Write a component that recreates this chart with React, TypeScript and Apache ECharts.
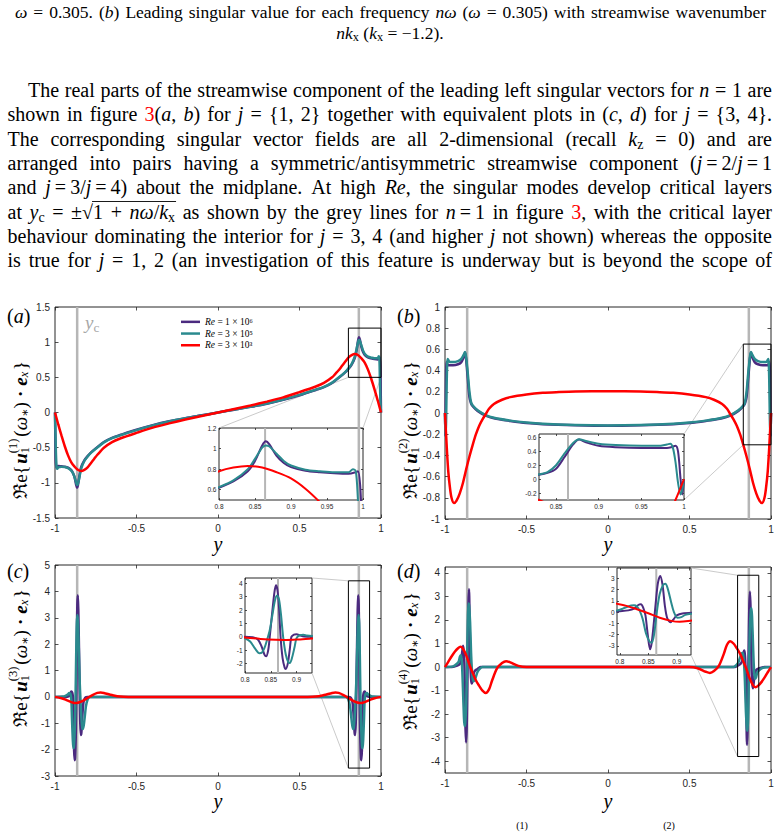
import React, { useEffect, useRef } from 'react';
import * as echarts from 'echarts';

const SERIF = '"Liberation Serif", "Times New Roman", "DejaVu Serif", serif';
const SANS = '"Liberation Sans", Arial, Helvetica, sans-serif';
const PURPLE = '#4b2a7f';
const TEAL = '#2a8a8e';
const RED = '#ff0000';
const GREY = '#b6b6b6';
const AX = '#262626';
const COLORS = [PURPLE, TEAL, RED];

const SERIES_NAMES = ['Re = 1 × 10⁶', 'Re = 3 × 10⁵', 'Re = 3 × 10³'];
const Y_CRIT = 0.864;

// ---------- tick labels ----------
const MAIN_X_TICKS = [-1, -0.5, 0, 0.5, 1];
const A_Y_TICKS = [-1.5, -1, -0.5, 0, 0.5, 1, 1.5];
const B_Y_TICKS = [-1, -0.8, -0.6, -0.4, -0.2, 0, 0.2, 0.4, 0.6, 0.8, 1];
const C_Y_TICKS = [-3, -2, -1, 0, 1, 2, 3, 4, 5];
const D_Y_TICKS = [-4, -3, -2, -1, 0, 1, 2, 3, 4];
const A_INSET_X_TICKS = [0.8, 0.85, 0.9, 0.95, 1];
const A_INSET_Y_TICKS = [0.6, 0.8, 1, 1.2];
const B_INSET_X_TICKS = [0.85, 0.9, 0.95, 1];
const B_INSET_Y_TICKS = [-0.2, 0, 0.2, 0.4, 0.6];
const C_INSET_X_TICKS = [0.8, 0.85, 0.9];
const C_INSET_Y_TICKS = [-2, -1, 0, 1, 2, 3, 4];
const D_INSET_X_TICKS = [0.8, 0.85, 0.9];
const D_INSET_Y_TICKS = [-3, -2, -1, 0, 1, 2, 3];

// ---------- panel (a): j = 1 ----------
const A_PURPLE = [
  [-1, 0], [-0.998, -0.35], [-0.996, -0.65], [-0.993, -0.78], [-0.99, -0.77], [-0.98, -0.76], [-0.96, -0.765],
  [-0.94, -0.77], [-0.92, -0.785], [-0.9, -0.82], [-0.89, -0.86], [-0.88, -0.92], [-0.87, -1.03], [-0.865, -1.07],
  [-0.86, -1.04], [-0.85, -0.9], [-0.84, -0.78], [-0.82, -0.68], [-0.8, -0.62], [-0.78, -0.57], [-0.75, -0.51],
  [-0.7, -0.42], [-0.65, -0.36], [-0.6, -0.32], [-0.5, -0.245], [-0.4, -0.18], [-0.3, -0.125], [-0.2, -0.08],
  [-0.1, -0.04], [0, 0], [0.1, 0.04], [0.2, 0.08], [0.3, 0.125], [0.4, 0.18], [0.5, 0.245], [0.6, 0.32],
  [0.65, 0.36], [0.7, 0.42], [0.75, 0.51], [0.78, 0.57], [0.8, 0.62], [0.82, 0.68], [0.84, 0.78], [0.85, 0.88],
  [0.86, 1.03], [0.865, 1.07], [0.87, 1.04], [0.88, 0.93], [0.89, 0.86], [0.9, 0.82], [0.92, 0.785], [0.94, 0.77],
  [0.96, 0.76], [0.98, 0.755], [0.99, 0.77], [0.993, 0.78], [0.996, 0.65], [0.998, 0.35], [1, 0],
];
const A_TEAL = [
  [-1, 0], [-0.997, -0.3], [-0.994, -0.6], [-0.99, -0.78], [-0.986, -0.8], [-0.98, -0.78], [-0.96, -0.77],
  [-0.94, -0.775], [-0.92, -0.79], [-0.9, -0.825], [-0.89, -0.86], [-0.88, -0.92], [-0.87, -1.0], [-0.865, -1.03],
  [-0.86, -1.02], [-0.85, -0.92], [-0.84, -0.8], [-0.82, -0.69], [-0.8, -0.625], [-0.78, -0.575], [-0.75, -0.515],
  [-0.7, -0.425], [-0.65, -0.365], [-0.6, -0.325], [-0.5, -0.25], [-0.4, -0.185], [-0.3, -0.128], [-0.2, -0.082],
  [-0.1, -0.041], [0, 0], [0.1, 0.041], [0.2, 0.082], [0.3, 0.128], [0.4, 0.185], [0.5, 0.25], [0.6, 0.325],
  [0.65, 0.365], [0.7, 0.425], [0.75, 0.515], [0.78, 0.575], [0.8, 0.625], [0.82, 0.69], [0.84, 0.8], [0.85, 0.9],
  [0.86, 1.01], [0.865, 1.03], [0.87, 1.02], [0.88, 0.95], [0.89, 0.88], [0.9, 0.835], [0.92, 0.795], [0.94, 0.78],
  [0.96, 0.77], [0.98, 0.77], [0.986, 0.8], [0.99, 0.78], [0.993, 0.5], [0.996, 0.2], [1, 0],
];
const A_RED = [
  [-1, 0], [-0.98, -0.17], [-0.96, -0.33], [-0.94, -0.48], [-0.92, -0.61], [-0.9, -0.71], [-0.88, -0.77],
  [-0.86, -0.815], [-0.84, -0.83], [-0.82, -0.815], [-0.8, -0.78], [-0.78, -0.72], [-0.76, -0.66], [-0.74, -0.6],
  [-0.72, -0.55], [-0.7, -0.5], [-0.65, -0.42], [-0.6, -0.37], [-0.5, -0.29], [-0.4, -0.215], [-0.3, -0.155],
  [-0.2, -0.1], [-0.1, -0.05], [0, 0], [0.1, 0.05], [0.2, 0.1], [0.3, 0.155], [0.4, 0.215], [0.5, 0.29],
  [0.6, 0.37], [0.65, 0.42], [0.7, 0.5], [0.72, 0.55], [0.74, 0.6], [0.76, 0.66], [0.78, 0.72], [0.8, 0.78],
  [0.82, 0.815], [0.84, 0.83], [0.86, 0.815], [0.88, 0.77], [0.9, 0.71], [0.92, 0.61], [0.94, 0.48], [0.96, 0.33],
  [0.98, 0.17], [1, 0],
];

// ---------- panel (b): j = 2 ----------
const B_PURPLE = [
  [-1, 0], [-0.998, -0.22], [-0.996, 0], [-0.993, 0.4], [-0.99, 0.48], [-0.985, 0.46], [-0.98, 0.45], [-0.95, 0.45],
  [-0.92, 0.46], [-0.9, 0.48], [-0.885, 0.53], [-0.877, 0.57], [-0.87, 0.5], [-0.86, 0.32], [-0.85, 0.15],
  [-0.84, 0.09], [-0.83, 0.065], [-0.8, 0.02], [-0.75, -0.025], [-0.7, -0.05], [-0.6, -0.075], [-0.5, -0.095],
  [-0.4, -0.105], [-0.2, -0.115], [0, -0.12], [0.2, -0.115], [0.4, -0.105], [0.5, -0.095], [0.6, -0.075],
  [0.7, -0.05], [0.75, -0.025], [0.8, 0.02], [0.83, 0.065], [0.84, 0.09], [0.85, 0.15], [0.86, 0.32], [0.87, 0.5],
  [0.877, 0.57], [0.885, 0.53], [0.9, 0.48], [0.92, 0.46], [0.95, 0.45], [0.98, 0.45], [0.985, 0.46], [0.99, 0.48],
  [0.993, 0.4], [0.996, 0], [0.998, -0.22], [1, 0],
];
const B_TEAL = [
  [-1, 0], [-0.998, -0.15], [-0.996, -0.22], [-0.993, -0.05], [-0.99, 0.25], [-0.987, 0.45], [-0.984, 0.51],
  [-0.98, 0.5], [-0.97, 0.48], [-0.95, 0.48], [-0.92, 0.49], [-0.9, 0.51], [-0.885, 0.55], [-0.877, 0.575],
  [-0.87, 0.52], [-0.86, 0.37], [-0.85, 0.2], [-0.84, 0.1], [-0.83, 0.07], [-0.8, 0.025], [-0.75, -0.02],
  [-0.7, -0.045], [-0.6, -0.072], [-0.5, -0.09], [-0.4, -0.102], [-0.2, -0.113], [0, -0.117], [0.2, -0.113],
  [0.4, -0.102], [0.5, -0.09], [0.6, -0.072], [0.7, -0.045], [0.75, -0.02], [0.8, 0.025], [0.83, 0.07], [0.84, 0.1],
  [0.85, 0.2], [0.86, 0.37], [0.87, 0.52], [0.877, 0.575], [0.885, 0.55], [0.9, 0.51], [0.92, 0.49], [0.95, 0.48],
  [0.97, 0.48], [0.98, 0.5], [0.984, 0.51], [0.987, 0.45], [0.99, 0.25], [0.993, -0.05], [0.996, -0.22],
  [0.998, -0.15], [1, 0],
];
const B_RED = [
  [-1, 0], [-0.99, -0.3], [-0.98, -0.55], [-0.97, -0.7], [-0.96, -0.8], [-0.945, -0.85], [-0.93, -0.83],
  [-0.91, -0.76], [-0.89, -0.66], [-0.87, -0.53], [-0.85, -0.41], [-0.83, -0.3], [-0.81, -0.2], [-0.79, -0.12],
  [-0.77, -0.06], [-0.75, -0.01], [-0.73, 0.04], [-0.7, 0.085], [-0.65, 0.125], [-0.6, 0.15], [-0.5, 0.175],
  [-0.4, 0.19], [-0.3, 0.197], [-0.2, 0.202], [0, 0.205], [0.2, 0.202], [0.3, 0.197], [0.4, 0.19], [0.5, 0.175],
  [0.6, 0.15], [0.65, 0.125], [0.7, 0.085], [0.73, 0.04], [0.75, -0.01], [0.77, -0.06], [0.79, -0.12], [0.81, -0.2],
  [0.83, -0.3], [0.85, -0.41], [0.87, -0.53], [0.89, -0.66], [0.91, -0.76], [0.93, -0.83], [0.945, -0.85],
  [0.96, -0.8], [0.97, -0.7], [0.98, -0.55], [0.99, -0.3], [1, 0],
];

// ---------- panel (c): j = 3 ----------
const C_PURPLE = [
  [-1, 0], [-0.93, 0], [-0.915, 0.02], [-0.907, 0.1], [-0.9, 0.2], [-0.895, 0.17], [-0.89, 0], [-0.887, -0.9],
  [-0.883, -2.0], [-0.879, -2.4], [-0.877, -2.3], [-0.873, -1.6], [-0.869, 0], [-0.866, 2.2], [-0.863, 3.5],
  [-0.86, 3.85], [-0.857, 3.3], [-0.853, 1.9], [-0.848, 0], [-0.845, -1.0], [-0.841, -1.45], [-0.838, -1.35],
  [-0.832, -0.7], [-0.825, -0.2], [-0.815, -0.03], [-0.8, 0], [0, 0], [0.8, 0], [0.815, -0.03], [0.825, -0.2],
  [0.832, -0.7], [0.838, -1.35], [0.841, -1.45], [0.845, -1.0], [0.848, 0], [0.853, 1.9], [0.857, 3.3],
  [0.86, 3.85], [0.863, 3.5], [0.866, 2.2], [0.869, 0], [0.873, -1.6], [0.877, -2.3], [0.879, -2.4],
  [0.883, -2.0], [0.887, -0.9], [0.89, 0], [0.895, 0.17], [0.9, 0.2], [0.907, 0.1], [0.915, 0.02], [0.93, 0],
  [1, 0],
];
const C_TEAL = [
  [-1, 0], [-0.95, 0.01], [-0.93, 0.06], [-0.92, 0.1], [-0.913, 0.15], [-0.906, 0.12], [-0.9, -0.1],
  [-0.896, -0.8], [-0.891, -1.6], [-0.887, -1.95], [-0.884, -1.9], [-0.879, -1.3], [-0.874, 0], [-0.87, 1.6],
  [-0.866, 2.8], [-0.862, 3.1], [-0.858, 2.7], [-0.853, 1.6], [-0.848, 0.5], [-0.843, -0.2], [-0.838, -0.8],
  [-0.832, -1.2], [-0.828, -1.22], [-0.82, -0.9], [-0.81, -0.35], [-0.8, -0.1], [-0.79, -0.02], [-0.78, 0], [0, 0],
  [0.78, 0], [0.79, -0.02], [0.8, -0.1], [0.81, -0.35], [0.82, -0.9], [0.828, -1.22], [0.832, -1.2],
  [0.838, -0.8], [0.843, -0.2], [0.848, 0.5], [0.853, 1.6], [0.858, 2.7], [0.862, 3.1], [0.866, 2.8], [0.87, 1.6],
  [0.874, 0], [0.879, -1.3], [0.884, -1.9], [0.887, -1.95], [0.891, -1.6], [0.896, -0.8], [0.9, -0.1],
  [0.906, 0.12], [0.913, 0.15], [0.92, 0.1], [0.93, 0.06], [0.95, 0.01], [1, 0],
];
const C_RED = [
  [-1, 0], [-0.96, -0.05], [-0.93, -0.12], [-0.9, -0.2], [-0.88, -0.23], [-0.86, -0.22], [-0.83, -0.15],
  [-0.8, -0.04], [-0.77, 0.07], [-0.74, 0.15], [-0.72, 0.17], [-0.7, 0.15], [-0.65, 0.07], [-0.6, 0.01],
  [-0.55, 0], [0, 0], [0.55, 0], [0.6, 0.01], [0.65, 0.07], [0.7, 0.15], [0.72, 0.17], [0.74, 0.15], [0.77, 0.07],
  [0.8, -0.04], [0.83, -0.15], [0.86, -0.22], [0.88, -0.23], [0.9, -0.2], [0.93, -0.12], [0.96, -0.05], [1, 0],
];

// ---------- panel (d): j = 4 ----------
const D_PURPLE = [
  [-1, 0], [-0.96, 0], [-0.93, 0.05], [-0.91, 0.12], [-0.9, 0.3], [-0.895, 0.6], [-0.889, 0.9], [-0.883, 0.5],
  [-0.879, -0.6], [-0.875, -2.4], [-0.871, -3.2], [-0.867, -2.6], [-0.863, -0.8], [-0.86, 0.8], [-0.856, 2.7],
  [-0.853, 3.3], [-0.849, 2.0], [-0.845, 0.3], [-0.841, -0.4], [-0.837, -0.7], [-0.833, -0.65], [-0.825, -0.3],
  [-0.815, -0.15], [-0.8, -0.08], [-0.78, 0], [0, 0], [0.78, 0], [0.8, 0.08], [0.815, 0.15], [0.825, 0.3],
  [0.833, 0.65], [0.837, 0.7], [0.841, 0.4], [0.845, -0.3], [0.849, -2.0], [0.853, -3.3], [0.856, -2.7],
  [0.86, -0.8], [0.863, 0.8], [0.867, 2.6], [0.871, 3.2], [0.875, 2.4], [0.879, 0.6], [0.883, -0.5],
  [0.889, -0.9], [0.895, -0.6], [0.9, -0.3], [0.91, -0.12], [0.93, -0.05], [0.96, 0], [1, 0],
];
const D_TEAL = [
  [-1, 0], [-0.95, 0.03], [-0.925, 0.15], [-0.915, 0.25], [-0.908, 0.45], [-0.901, 0.5], [-0.895, 0],
  [-0.89, -0.9], [-0.884, -2.1], [-0.88, -2.5], [-0.876, -2.4], [-0.87, -1.6], [-0.865, 0], [-0.86, 2.0],
  [-0.856, 2.7], [-0.852, 2.6], [-0.846, 1.9], [-0.84, 0.6], [-0.835, -0.1], [-0.83, -0.5], [-0.825, -0.6],
  [-0.82, -0.58], [-0.81, -0.4], [-0.8, -0.2], [-0.79, -0.1], [-0.77, 0], [0, 0], [0.77, 0], [0.79, 0.1],
  [0.8, 0.2], [0.81, 0.4], [0.82, 0.58], [0.825, 0.6], [0.83, 0.5], [0.835, 0.1], [0.84, -0.6], [0.846, -1.9],
  [0.852, -2.6], [0.856, -2.7], [0.86, -2.0], [0.865, 0], [0.87, 1.6], [0.876, 2.4], [0.88, 2.5], [0.884, 2.1],
  [0.89, 0.9], [0.895, 0], [0.901, -0.5], [0.908, -0.45], [0.915, -0.25], [0.925, -0.15], [0.95, -0.03], [1, 0],
];
const D_RED = [
  [-1, 0], [-0.98, 0.22], [-0.96, 0.45], [-0.94, 0.65], [-0.92, 0.8], [-0.905, 0.86], [-0.89, 0.78],
  [-0.87, 0.5], [-0.85, 0.1], [-0.83, -0.25], [-0.81, -0.57], [-0.79, -0.8], [-0.77, -1.0], [-0.75, -1.1],
  [-0.73, -0.95], [-0.71, -0.55], [-0.68, -0.05], [-0.65, 0.17], [-0.625, 0.25], [-0.6, 0.2], [-0.55, 0.05],
  [-0.5, 0], [0, 0], [0.5, 0], [0.55, -0.05], [0.6, -0.2], [0.625, -0.25], [0.65, -0.17], [0.68, 0.05],
  [0.71, 0.55], [0.73, 0.95], [0.75, 1.1], [0.77, 1.0], [0.79, 0.8], [0.81, 0.57], [0.83, 0.25], [0.85, -0.1],
  [0.87, -0.5], [0.89, -0.78], [0.905, -0.86], [0.92, -0.8], [0.94, -0.65], [0.96, -0.45], [0.98, -0.22], [1, 0],
];

// ---------- text ----------
const CAPTION_LINES = [
  '*ω* = 0.305. (*b*) Leading singular value for each frequency *nω* (*ω* = 0.305) with streamwise wavenumber',
  '*nk*~x~ (*k*~x~ = −1.2).',
];
const PARAGRAPH_LINES = [
  'The real parts of the streamwise component of the leading left singular vectors for *n* = 1 are',
  'shown in figure #3#(*a*, *b*) for *j* = {1, 2} together with equivalent plots in (*c*, *d*) for *j* = {3, 4}.',
  'The corresponding singular vector fields are all 2-dimensional (recall *k*~z~ = 0) and are',
  'arranged into pairs having a symmetric/antisymmetric streamwise component (*j*\u2009=\u20092/*j*\u2009=\u20091',
  'and *j*\u2009=\u20093/*j*\u2009=\u20094) about the midplane. At high *Re*, the singular modes develop critical layers',
  'at *y*~c~ = ±√[1 + *nω*/*k*~x~] as shown by the grey lines for *n*\u2009=\u20091 in figure #3#, with the critical layer',
  'behaviour dominating the interior for *j* = 3, 4 (and higher *j* not shown) whereas the opposite',
  'is true for *j* = 1, 2 (an investigation of this feature is underway but is beyond the scope of',
];
const PANEL_LETTERS = ['a', 'b', 'c', 'd'];
const FOOT_SUPERSCRIPTS = ['(1)', '(2)'];

// ---------- layout ----------
const PANELS = [
  {
    main: { left: 55, top: 307, width: 326, height: 211, x: [-1, 1], y: [-1.5, 1.5] },
    inset: { left: 219, top: 428, width: 144, height: 72, x: [0.8, 1], y: [0.5, 1.2] },
    xt: MAIN_X_TICKS, yt: A_Y_TICKS, ixt: A_INSET_X_TICKS, iyt: A_INSET_Y_TICKS,
    data: [A_PURPLE, A_TEAL, A_RED], below: true,
    letter: [7, 316], ylab: [20, 430], xtitle: [218, 544],
  },
  {
    main: { left: 445, top: 307, width: 326, height: 212, x: [-1, 1], y: [-1, 1] },
    inset: { left: 539, top: 434, width: 145, height: 66, x: [0.83, 1], y: [-0.3, 0.65] },
    xt: MAIN_X_TICKS, yt: B_Y_TICKS, ixt: B_INSET_X_TICKS, iyt: B_INSET_Y_TICKS,
    data: [B_PURPLE, B_TEAL, B_RED], below: false,
    letter: [397, 316], ylab: [410, 430], xtitle: [608, 544],
  },
  {
    main: { left: 55, top: 565, width: 326, height: 211, x: [-1, 1], y: [-3, 5] },
    inset: { left: 245, top: 578, width: 67, height: 95, x: [0.8, 0.93], y: [-2.7, 4.4] },
    xt: MAIN_X_TICKS, yt: C_Y_TICKS, ixt: C_INSET_X_TICKS, iyt: C_INSET_Y_TICKS,
    data: [C_PURPLE, C_TEAL, C_RED], below: false,
    letter: [7, 571], ylab: [20, 658], xtitle: [218, 801],
  },
  {
    main: { left: 445, top: 567, width: 326, height: 206, x: [-1, 1], y: [-4.5, 4.25] },
    inset: { left: 617, top: 568, width: 74, height: 87, x: [0.795, 0.925], y: [-3.8, 3.9] },
    xt: MAIN_X_TICKS, yt: D_Y_TICKS, ixt: D_INSET_X_TICKS, iyt: D_INSET_Y_TICKS,
    data: [D_PURPLE, D_TEAL, D_RED], below: false,
    letter: [397, 571], ylab: [410, 661], xtitle: [608, 801],
  },
];

// ---------- text helpers ----------
const mctx = document.createElement('canvas').getContext('2d') as CanvasRenderingContext2D;
function fstr(size: number, it?: boolean, bold?: boolean) {
  return `${it ? 'italic ' : ''}${bold ? 'bold ' : ''}${size}px ${SERIF}`;
}
function tw(t: string, font: string) {
  mctx.font = font;
  return mctx.measureText(t).width;
}
type Seg = { t: string; it: boolean; sub: boolean; red: boolean; ov: boolean };
function parseLine(s: string): Seg[][] {
  const words: Seg[][] = [];
  let cur: Seg[] = [];
  let st = { it: false, sub: false, red: false, ov: false };
  let buf = '';
  const flush = () => {
    if (buf) { cur.push({ t: buf, ...st }); buf = ''; }
  };
  for (const ch of s) {
    if (ch === '*') { flush(); st = { ...st, it: !st.it }; }
    else if (ch === '~') { flush(); st = { ...st, sub: !st.sub }; }
    else if (ch === '#') { flush(); st = { ...st, red: !st.red }; }
    else if (ch === '[') { flush(); st = { ...st, ov: true }; }
    else if (ch === ']') { flush(); st = { ...st, ov: false }; }
    else if (ch === ' ') { flush(); if (cur.length) words.push(cur); cur = []; }
    else buf += ch;
  }
  flush();
  if (cur.length) words.push(cur);
  return words;
}
const segSize = (sg: Seg, size: number) => (sg.sub ? size * 0.7 : size);
const segFont = (sg: Seg, size: number) => fstr(segSize(sg, size), sg.it, false);
function naturalWidth(s: string, size: number) {
  const words = parseLine(s);
  return { n: words.length, w: words.reduce((a, w) => a + w.reduce((b, sg) => b + tw(sg.t, segFont(sg, size)), 0), 0) };
}
function layoutLine(s: string, o: any) {
  const words = parseLine(s);
  const sx = o.sx ?? 1;
  const widths = words.map((w) => w.reduce((a, sg) => a + tw(sg.t, segFont(sg, o.size)), 0) * sx);
  const total = widths.reduce((a, b) => a + b, 0);
  const space = tw(' ', fstr(o.size)) * sx;
  let gap = space;
  let x = o.x0;
  if (o.mode === 'justify' && words.length > 1) gap = (o.x1 - o.x0 - total) / (words.length - 1);
  else if (o.mode === 'center') x = o.x0 - (total + space * (words.length - 1)) / 2;
  const els: any[] = [];
  let ovMin = Infinity;
  let ovMax = -Infinity;
  words.forEach((w) => {
    w.forEach((sg) => {
      const font = segFont(sg, o.size);
      const wd = tw(sg.t, font) * sx;
      els.push({
        type: 'text', x, y: o.y + (sg.sub ? o.size * 0.28 : 0), scaleX: sx, silent: true, z: 10,
        style: { text: sg.t, font, fill: sg.red ? RED : (o.color || '#000'), align: 'left', verticalAlign: 'middle', textAlign: 'left', textVerticalAlign: 'middle' },
      });
      if (sg.ov) { ovMin = Math.min(ovMin, x); ovMax = Math.max(ovMax, x + wd); }
      x += wd;
    });
    x += gap;
  });
  if (ovMin < ovMax) {
    const yy = o.y - o.size * 0.5;
    els.push({ type: 'line', silent: true, z: 10, shape: { x1: ovMin - 1, y1: yy, x2: ovMax + 1, y2: yy }, style: { stroke: o.color || '#000', lineWidth: 0.9 } });
  }
  return els;
}
function yLabelGroup(j: number, cx: number, cy: number) {
  const S = 19;
  const s = 12.5;
  const items: any[] = [
    { t: 'ℜe{', size: S, post: 1.5 },
    { t: 'u', size: S, it: true, bold: true },
    { t: '1', size: s, dy: 4.5, adv: false },
    { t: `(${j})`, size: s, dy: -7 },
    { t: '(', size: S, pre: 2 },
    { t: 'ω', size: S, it: true },
    { t: '∗', size: s, dy: 4.5 },
    { t: ')', size: S },
    { t: '·', size: S, bold: true, pre: 5, post: 5 },
    { t: 'e', size: S, it: true, bold: true },
    { t: 'x', size: s, it: true, dy: 4 },
    { t: '}', size: S, pre: 1.5 },
  ];
  let W = 0;
  items.forEach((it) => {
    it.font = fstr(it.size, it.it, it.bold);
    it.w = tw(it.t, it.font);
    W += (it.pre || 0) + (it.adv === false ? 0 : it.w) + (it.post || 0);
  });
  let x = -W / 2;
  const children = items.map((it) => {
    x += it.pre || 0;
    const el = { type: 'text', x, y: it.dy || 0, silent: true, style: { text: it.t, font: it.font, fill: '#000', align: 'left', verticalAlign: 'middle', textAlign: 'left', textVerticalAlign: 'middle' } };
    if (it.adv !== false) x += it.w;
    x += it.post || 0;
    return el;
  });
  return { type: 'group', x: cx, y: cy, rotation: Math.PI / 2, silent: true, z: 10, children };
}

// ---------- option ----------
function buildOption() {
  const grids: any[] = [];
  const xAxes: any[] = [];
  const yAxes: any[] = [];
  const series: any[] = [];
  const addGrid = (r: any, xt: number[], yt: number[], fs: number, tl: number, lm: number) => {
    const g = grids.length;
    grids.push({ left: r.left, top: r.top, width: r.width, height: r.height, show: true, borderColor: AX, borderWidth: 1, backgroundColor: 'transparent', containLabel: false, outerBoundsMode: 'none' });
    ['bottom', 'top'].forEach((pos, k) => xAxes.push({
      type: 'value', gridIndex: g, position: pos, min: r.x[0], max: r.x[1],
      axisLine: { show: false, onZero: false }, splitLine: { show: false },
      axisTick: { show: true, inside: true, length: tl, customValues: xt, lineStyle: { color: AX, width: 0.8 } },
      axisLabel: { show: k === 0, customValues: xt, fontSize: fs, color: AX, fontFamily: SANS, margin: lm },
    }));
    ['left', 'right'].forEach((pos, k) => yAxes.push({
      type: 'value', gridIndex: g, position: pos, min: r.y[0], max: r.y[1],
      axisLine: { show: false, onZero: false }, splitLine: { show: false },
      axisTick: { show: true, inside: true, length: tl, customValues: yt, lineStyle: { color: AX, width: 0.8 } },
      axisLabel: { show: k === 0, customValues: yt, fontSize: fs, color: AX, fontFamily: SANS, margin: lm },
    }));
    return g;
  };
  const addCurves = (g: number, r: any, data: any[], inset: boolean) => {
    const ai = 2 * g;
    [-Y_CRIT, Y_CRIT].forEach((v) => series.push({
      type: 'line', xAxisIndex: ai, yAxisIndex: ai, data: [[v, r.y[0]], [v, r.y[1]]], symbol: 'none',
      lineStyle: { color: GREY, width: inset ? 2 : 2.5 }, z: 1, silent: true, clip: true,
    }));
    data.forEach((d, k) => series.push({
      name: SERIES_NAMES[k], type: 'line', xAxisIndex: ai, yAxisIndex: ai, data: d, symbol: 'none', showSymbol: false,
      smooth: 0.3, lineStyle: { color: COLORS[k], width: inset ? 2 : 2.5 }, itemStyle: { color: COLORS[k] },
      z: 2 + k, clip: true, silent: true,
    }));
  };
  PANELS.forEach((p) => {
    const g = addGrid(p.main, p.xt, p.yt, 10, 3.5, 5);
    addCurves(g, p.main, p.data, false);
  });
  PANELS.forEach((p, i) => {
    const g = addGrid(p.inset, p.ixt, p.iyt, 6.5, 2, 2.5);
    addCurves(g, p.inset, p.data, true);
    const [x0, x1] = p.inset.x;
    const [y0, y1] = p.inset.y;
    series.push({
      type: 'line', xAxisIndex: 2 * i, yAxisIndex: 2 * i, data: [[x0, y0], [x1, y0], [x1, y1], [x0, y1], [x0, y0]],
      symbol: 'none', lineStyle: { color: '#000', width: 1 }, z: 6, clip: false, silent: true,
    });
  });
  return { grids, xAxes, yAxes, series };
}

function buildTexts() {
  const els: any[] = [];
  const specs: any[] = [
    { line: CAPTION_LINES[0], x0: 15, x1: 766, y: 12, size: 17.5, mode: 'justify' },
    { line: CAPTION_LINES[1], x0: 390, y: 32.5, size: 17.5, mode: 'center' },
    ...PARAGRAPH_LINES.map((l, k) => ({ line: l, x0: k === 0 ? 28 : 7.5, x1: 772, y: 90 + 24.3 * k, size: 20, mode: 'justify' })),
  ];
  let sx = 1;
  specs.filter((s) => s.mode === 'justify').forEach((s) => {
    const { n, w } = naturalWidth(s.line, s.size);
    sx = Math.min(sx, (s.x1 - s.x0 - (n - 1) * 0.2 * s.size) / w);
  });
  specs.forEach((s) => els.push(...layoutLine(s.line, { ...s, sx })));
  PANELS.forEach((p, i) => {
    els.push(...layoutLine(`(*${PANEL_LETTERS[i]}*)`, { x0: p.letter[0], y: p.letter[1], size: 20, mode: 'left' }));
    els.push(...layoutLine('*y*', { x0: p.xtitle[0], y: p.xtitle[1], size: 20, mode: 'center' }));
    els.push(yLabelGroup(i + 1, p.ylab[0], p.ylab[1]));
  });
  els.push(...layoutLine('*y*~c~', { x0: 85, y: 322, size: 19, mode: 'left', color: '#a8a8a8' }));
  els.push(...layoutLine(FOOT_SUPERSCRIPTS[0], { x0: 522, y: 825, size: 10, mode: 'center' }));
  els.push(...layoutLine(FOOT_SUPERSCRIPTS[1], { x0: 669, y: 825, size: 10, mode: 'center' }));
  return els;
}

export default function App() {
  const ref = useRef<HTMLDivElement>(null);
  useEffect(() => {
    const chart = echarts.init(ref.current as HTMLDivElement, null, { renderer: 'svg' });
    const { grids, xAxes, yAxes, series } = buildOption();
    const texts = buildTexts();
    chart.setOption({
      animation: false,
      backgroundColor: '#fff',
      grid: grids,
      xAxis: xAxes,
      yAxis: yAxes,
      series,
      legend: {
        data: SERIES_NAMES, orient: 'vertical', left: 181, top: 316, itemWidth: 19, itemHeight: 2.5, itemGap: 0,
        icon: 'rect', selectedMode: false, padding: 0,
        formatter: (n: string) => '{i|Re}' + n.slice(2),
        textStyle: {
          fontFamily: SERIF, fontSize: 9.5, color: '#000', lineHeight: 11.7,
          rich: { i: { fontFamily: SERIF, fontStyle: 'italic', fontSize: 9.5, lineHeight: 11.7 } },
        },
      },
      graphic: texts,
    });
    const conn: any[] = [];
    PANELS.forEach((p, i) => {
      const mg = 2 * i;
      const ig = 2 * (4 + i);
      const [x0, x1] = p.inset.x;
      const [y0, y1] = p.inset.y;
      const pairs = p.below
        ? [[[x0, y0], [x0, y1]], [[x1, y0], [x1, y1]]]
        : [[[x0, y1], [x1, y1]], [[x0, y0], [x1, y0]]];
      pairs.forEach(([a, b]) => {
        const A = chart.convertToPixel({ xAxisIndex: mg, yAxisIndex: mg } as any, a) as any;
        const B = chart.convertToPixel({ xAxisIndex: ig, yAxisIndex: ig } as any, b) as any;
        if (A && B) conn.push({ type: 'line', silent: true, z: 0, shape: { x1: A[0], y1: A[1], x2: B[0], y2: B[1] }, style: { stroke: '#bdbdbd', lineWidth: 0.8 } });
      });
    });
    chart.setOption({ graphic: [...texts, ...conn] });
    return () => chart.dispose();
  }, []);
  return <div ref={ref} style={{ position: 'fixed', left: 0, top: 0, width: 780, height: 833, background: '#fff' }} />;
}
